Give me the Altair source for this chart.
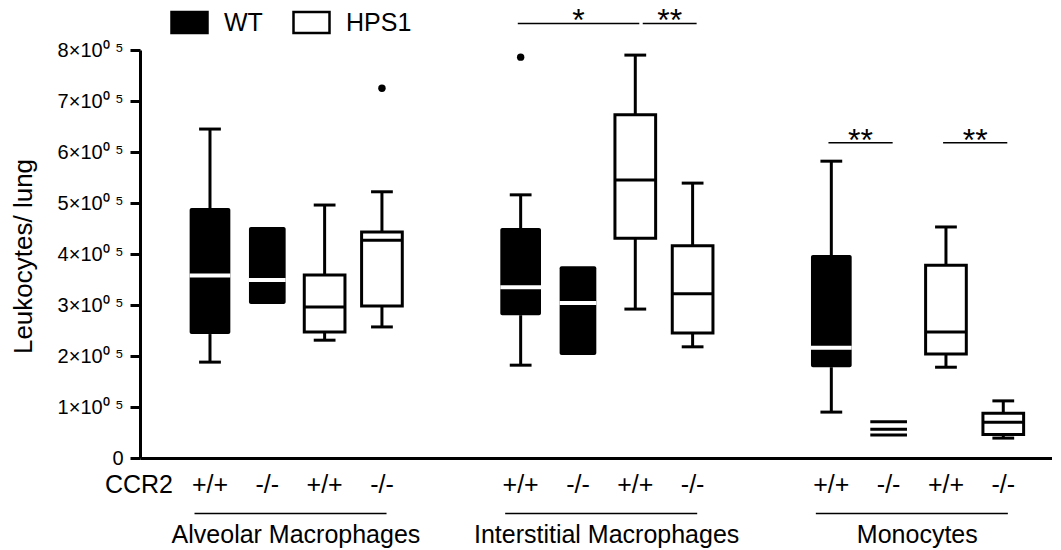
import altair as alt
import pandas as pd

# ---- data (values in units of 10^5 leukocytes / lung) ----
GROUPS = ["Alveolar Macrophages", "Interstitial Macrophages", "Monocytes"]
CCR2 = ["+/+", "-/-", "+/+", "-/-"]
GENO = ["WT", "WT", "HPS1", "HPS1"]

# 12 boxes, order: group x (WT+/+, WT-/-, HPS1+/+, HPS1-/-)
WHISK_LO = [1.88, 3.02, 2.31, 2.57, 1.82, 2.02, 2.92, 2.18, 0.90, 0.45, 1.78, 0.39]
Q1 = [2.43, 3.02, 2.47, 2.98, 2.80, 2.02, 4.31, 2.45, 1.78, 0.45, 2.04, 0.46]
MEDIAN = [3.58, 3.49, 2.96, 4.27, 3.35, 3.04, 5.45, 3.22, 2.16, 0.565, 2.47, 0.70]
Q3 = [4.90, 4.53, 3.59, 4.43, 4.51, 3.76, 6.73, 4.16, 3.98, 0.71, 3.78, 0.876]
WHISK_HI = [6.45, 4.53, 4.96, 5.22, 5.16, 3.76, 7.90, 5.39, 5.82, 0.71, 4.53, 1.12]

OUTLIER_BOX = [3, 4]
OUTLIER_VAL = [7.25, 7.86]

SIG_GROUP = [1, 1, 2, 2]
SIG_FROM = [0, 2, 0, 2]
SIG_TO = [2, 3, 1, 3]
SIG_LEVEL = [8.52, 8.52, 6.18, 6.18]
SIG_TEXT = ["*", "**", "**", "**"]

YTICKS = [0, 1, 2, 3, 4, 5, 6, 7, 8]

# ---- layout constants ----
UNIT = 1e5
GSTEP = 5.42
FONT = "Liberation Sans"
W, H = 912, 408

rows = []
for k in range(12):
    g, i = divmod(k, 4)
    pos = g * GSTEP + i
    hw = 0.32 if (GENO[i] == "WT" and CCR2[i] == "-/-") else 0.355
    rows.append(dict(
        pos=pos, xl=pos - hw, xr=pos + hw, cl=pos - 0.19, cr=pos + 0.19,
        lo=WHISK_LO[k] * UNIT, q1=Q1[k] * UNIT, med=MEDIAN[k] * UNIT,
        q3=Q3[k] * UNIT, hi=WHISK_HI[k] * UNIT,
        geno=GENO[i], ccr2=CCR2[i], group=GROUPS[g],
        lineonly=(g == 2 and i == 1),
    ))
box = pd.DataFrame(rows)

out = pd.DataFrame(dict(
    pos=[rows[b]["pos"] for b in OUTLIER_BOX],
    val=[v * UNIT for v in OUTLIER_VAL],
))

sig_rows = []
ends = set()
for g, a, b, lv, t in zip(SIG_GROUP, SIG_FROM, SIG_TO, SIG_LEVEL, SIG_TEXT):
    pa = g * GSTEP + a
    pb = g * GSTEP + b
    start = pa - 0.05 + (0.18 if (g, a) in ends else 0)
    end = pb + 0.07
    ends.add((g, b))
    sig_rows.append(dict(xs=start, xe=end, xm=(start + end) / 2, y=lv * UNIT, t=t))
sig = pd.DataFrame(sig_rows)

grp = pd.DataFrame(dict(
    name=GROUPS,
    gs=[g * GSTEP - 0.27 for g in range(3)],
    ge=[g * GSTEP + 3 + 0.08 for g in range(3)],
    gm=[g * GSTEP + 1.5 for g in range(3)],
))

xs = alt.Scale(domain=[-1.221, 14.69], nice=False, zero=False)
ys = alt.Scale(domain=[0, 8 * UNIT], nice=False)

xaxis = alt.Axis(title=None, labels=False, ticks=False, grid=False,
                 domainColor="black", domainWidth=3)
yaxis = alt.Axis(
    title="Leukocytes/ lung", values=[v * UNIT for v in YTICKS], grid=False,
    tickSize=10, tickWidth=3, tickColor="black",
    domainColor="black", domainWidth=3,
    labelFont=FONT, labelFontSize=20, labelColor="black", labelPadding=7,
    labelExpr="datum.value == 0 ? '0' : format(datum.value / 100000, 'd') + '\u00d710\u2070 \u2075'",
    titleFont=FONT, titleFontSize=26, titleFontWeight="normal", titleColor="black",
    titleX=-117, titleY=206, titleAlign="center", titleBaseline="middle",
)

fill_scale = alt.Scale(domain=["WT", "HPS1"], range=["black", "white"])
legend = alt.Legend(
    title=None, orient="none", legendX=30, legendY=-47, direction="horizontal",
    symbolType="M-1,-0.58H1V0.58H-1Z", symbolSize=1296,
    symbolStrokeColor="black", symbolStrokeWidth=2.5, symbolOpacity=1,
    labelFont=FONT, labelFontSize=25, labelColor="black", labelOffset=15,
    columnPadding=25, padding=0,
)

base = alt.Chart(box)

whisk_up = base.transform_filter("datum.hi > datum.q3").mark_rule(
    color="black", strokeWidth=3).encode(
    x=alt.X("pos:Q", scale=xs, axis=xaxis),
    y=alt.Y("q3:Q", scale=ys, axis=yaxis), y2="hi:Q")
whisk_dn = base.transform_filter("datum.lo < datum.q1").mark_rule(
    color="black", strokeWidth=3).encode(
    x=alt.X("pos:Q", scale=xs, axis=xaxis),
    y=alt.Y("lo:Q", scale=ys, axis=yaxis), y2="q1:Q")
cap_up = base.transform_filter("datum.hi > datum.q3").mark_rule(
    color="black", strokeWidth=3).encode(
    x=alt.X("cl:Q", scale=xs, axis=xaxis), x2="cr:Q",
    y=alt.Y("hi:Q", scale=ys, axis=yaxis))
cap_dn = base.transform_filter("datum.lo < datum.q1").mark_rule(
    color="black", strokeWidth=3).encode(
    x=alt.X("cl:Q", scale=xs, axis=xaxis), x2="cr:Q",
    y=alt.Y("lo:Q", scale=ys, axis=yaxis))

box_wt = base.transform_filter("!datum.lineonly && datum.geno == 'WT'").mark_rect(
    cornerRadius=2).encode(
    x=alt.X("xl:Q", scale=xs, axis=xaxis), x2="xr:Q",
    y=alt.Y("q1:Q", scale=ys, axis=yaxis), y2="q3:Q",
    fill=alt.Fill("geno:N", scale=fill_scale, legend=legend))
box_hps = base.transform_filter("!datum.lineonly && datum.geno == 'HPS1'").mark_rect(
    stroke="black", strokeWidth=3).encode(
    x=alt.X("xl:Q", scale=xs, axis=xaxis), x2="xr:Q",
    y=alt.Y("q1:Q", scale=ys, axis=yaxis), y2="q3:Q",
    fill=alt.Fill("geno:N", scale=fill_scale, legend=legend))

med_wt = base.transform_filter("!datum.lineonly && datum.geno == 'WT'").mark_rule(
    color="white", strokeWidth=4).encode(
    x=alt.X("xl:Q", scale=xs, axis=xaxis), x2="xr:Q",
    y=alt.Y("med:Q", scale=ys, axis=yaxis))
med_hps = base.transform_filter("!datum.lineonly && datum.geno == 'HPS1'").mark_rule(
    color="black", strokeWidth=3).encode(
    x=alt.X("xl:Q", scale=xs, axis=xaxis), x2="xr:Q",
    y=alt.Y("med:Q", scale=ys, axis=yaxis))

lines_only = base.transform_filter("datum.lineonly").transform_fold(
    ["q1", "med", "q3"], as_=["k", "v"]).mark_rule(
    color="black", strokeWidth=3).encode(
    x=alt.X("xl:Q", scale=xs, axis=xaxis), x2="xr:Q",
    y=alt.Y("v:Q", scale=ys, axis=yaxis))

outliers = alt.Chart(out).mark_circle(color="black", size=55, opacity=1).encode(
    x=alt.X("pos:Q", scale=xs, axis=xaxis),
    y=alt.Y("val:Q", scale=ys, axis=yaxis))

sig_lines = alt.Chart(sig).mark_rule(color="black", strokeWidth=1.5).encode(
    x=alt.X("xs:Q", scale=xs, axis=xaxis), x2="xe:Q",
    y=alt.Y("y:Q", scale=ys, axis=yaxis))
sig_text = alt.Chart(sig).mark_text(
    font=FONT, fontSize=32, color="black", baseline="alphabetic", dy=8).encode(
    x=alt.X("xm:Q", scale=xs, axis=xaxis),
    y=alt.Y("y:Q", scale=ys, axis=yaxis), text="t:N")

tick_text = base.mark_text(
    font=FONT, fontSize=25, color="black", baseline="alphabetic", align="center").encode(
    x=alt.X("pos:Q", scale=xs, axis=xaxis), y=alt.value(H + 35), text="ccr2:N")

ccr2_label = alt.Chart(pd.DataFrame({"t": ["CCR2"]})).mark_text(
    font=FONT, fontSize=25, color="black", baseline="alphabetic", align="right").encode(
    x=alt.value(33), y=alt.value(H + 35), text="t:N")

grp_lines = alt.Chart(grp).mark_rule(color="black", strokeWidth=1.5).encode(
    x=alt.X("gs:Q", scale=xs, axis=xaxis), x2="ge:Q", y=alt.value(H + 55.5))
grp_text = alt.Chart(grp).mark_text(
    font=FONT, fontSize=25, color="black", baseline="alphabetic", align="center").encode(
    x=alt.X("gm:Q", scale=xs, axis=xaxis), y=alt.value(H + 85), text="name:N")

chart = alt.layer(
    whisk_up, whisk_dn, cap_up, cap_dn, box_wt, box_hps, med_wt, med_hps,
    lines_only, outliers, sig_lines, sig_text, tick_text, ccr2_label,
    grp_lines, grp_text,
).properties(
    width=W, height=H,
    autosize=alt.AutoSizeParams(type="none"),
    padding={"left": 132, "top": 42, "right": 0, "bottom": 92},
    background="white",
).configure_view(stroke=None)

chart.save("out.html", embed_options={"renderer": "svg", "actions": False})
